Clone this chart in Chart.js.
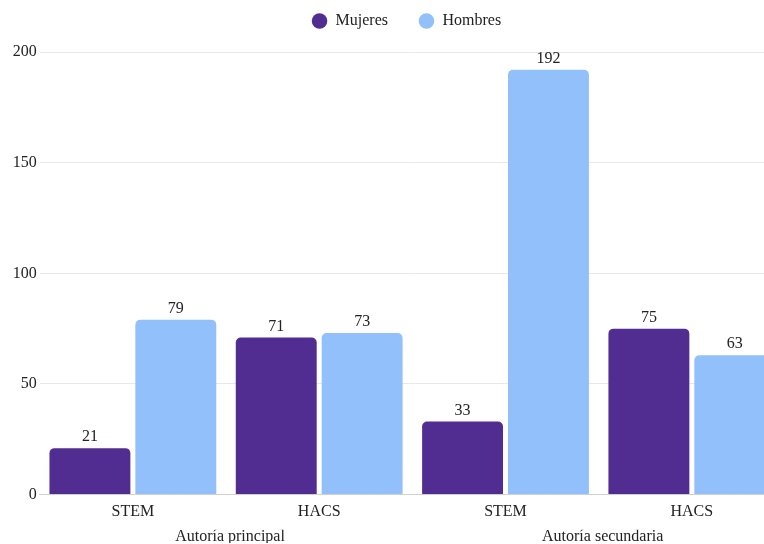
<!DOCTYPE html>
<html>
<head>
<meta charset="utf-8">
<script src="https://cdn.jsdelivr.net/npm/chart.js@4"></script>
<style>
  html, body { margin: 0; padding: 0; overflow: hidden; background: #fff; }
  #wrap { width: 790px; height: 544px; }
  .preload { position: absolute; left: -999px; top: 0; font: 16px 'Liberation Serif'; }
</style>
</head>
<body>
<span class="preload">Autoría STEM 200</span>
<div id="wrap"><canvas id="chart"></canvas></div>
<script>
// Chart data
const categories = ['STEM', 'HACS', 'STEM', 'HACS'];
const groups = ['Autoría principal', 'Autoría secundaria'];
const mujeres = [21, 71, 33, 75];
const hombres = [79, 73, 192, 63];
const yTicks = [0, 50, 100, 150, 200];

const FONT = 'Liberation Serif';
Chart.defaults.font.family = FONT;
Chart.defaults.font.size = 16;
Chart.defaults.color = '#222';

// Draw the value above each bar
const valueLabels = {
  id: 'valueLabels',
  afterDatasetsDraw(chart) {
    const ctx = chart.ctx;
    ctx.save();
    ctx.font = '16px "' + FONT + '"';
    ctx.fillStyle = '#222';
    ctx.textAlign = 'center';
    ctx.textBaseline = 'middle';
    chart.data.datasets.forEach((ds, i) => {
      chart.getDatasetMeta(i).data.forEach((bar, j) => {
        ctx.fillText(ds.data[j], bar.x, bar.y - 11);
      });
    });
    ctx.restore();
  }
};

// Wide gap between legend items, but keep the legend close to the top
const legendGap = {
  id: 'legendGap',
  beforeInit(chart) {
    const fit = chart.legend.fit;
    chart.legend.fit = function() {
      fit.call(this);
      this.height += 13;
      this.lineWidths[0] += 12; // nudge the row a little to the left
    };
  }
};

function drawChart() {
  new Chart(document.getElementById('chart').getContext('2d'), {
    type: 'bar',
    data: {
      labels: categories,
      datasets: [
        {
          label: 'Mujeres',
          data: mujeres,
          backgroundColor: '#522D91',
          borderRadius: { topLeft: 5, topRight: 5 },
          borderSkipped: 'bottom'
        },
        {
          label: 'Hombres',
          data: hombres,
          backgroundColor: '#91C0FA',
          borderRadius: { topLeft: 5, topRight: 5 },
          borderSkipped: 'bottom'
        }
      ]
    },
    options: {
      responsive: true,
      maintainAspectRatio: false,
      animation: false,
      categoryPercentage: 0.922,
      barPercentage: 0.942,
      layout: {
        padding: { left: 9.7, right: 5, top: -17.5, bottom: 1 }
      },
      plugins: {
        legend: {
          position: 'top',
          fullSize: false,
          labels: {
            usePointStyle: true,
            pointStyle: 'circle',
            boxWidth: 17,
            boxHeight: 11,
            padding: 30.5,
            font: { size: 16 }
          }
        },
        tooltip: { enabled: false }
      },
      scales: {
        x: {
          offset: true,
          grid: { display: false, drawTicks: false },
          border: { color: '#d0d0d0' },
          ticks: { padding: 8 }
        },
        x2: {
          type: 'category',
          position: 'bottom',
          labels: groups,
          offset: true,
          grid: { display: false, drawTicks: false },
          border: { display: false },
          ticks: { padding: -3, labelOffset: 4 }
        },
        y: {
          min: 0,
          max: yTicks[yTicks.length - 1],
          afterBuildTicks: axis => {
            axis.ticks = yTicks.map(v => ({ value: v }));
          },
          grid: { color: '#e8e8e8', drawTicks: false },
          border: { display: false },
          ticks: { padding: 3 }
        }
      }
    },
    plugins: [valueLabels, legendGap]
  });
}

document.fonts.load('16px "' + FONT + '"').then(drawChart, drawChart);
</script>
</body>
</html>
